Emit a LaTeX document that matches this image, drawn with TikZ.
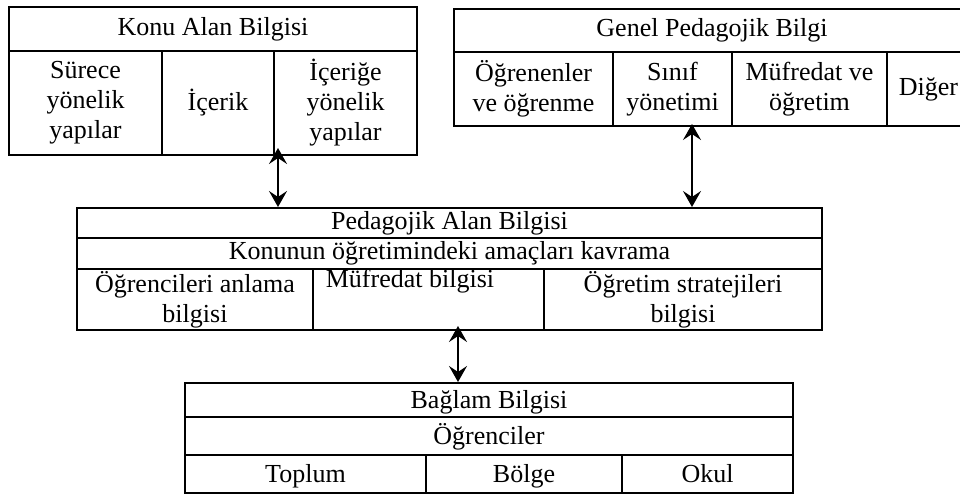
\documentclass[tikz,border=0pt]{standalone}
\usepackage{fontspec}
\setmainfont{Liberation Serif}
\usetikzlibrary{arrows.meta}

\tikzset{
  cell/.style={draw, line width=2pt, inner sep=0pt, align=center,
    font=\fontsize{26}{30}\selectfont},
  rowcell/.style={cell, text height=20pt, text depth=4pt},
  biarrow/.style={{Stealth[length=16pt,width=18pt,inset=6pt]}-{Stealth[length=16pt,width=18pt,inset=6pt]},
    line width=2pt}
}

\begin{document}
\begin{tikzpicture}[x=1pt,y=-1pt]
   \useasboundingbox (0,0) rectangle (960,494);
   \clip (0,0) rectangle (960,494);
   % Konu Alan Bilgisi
   \node[cell, minimum width=408pt, minimum height=44pt] (kab) at (213,29) {Konu Alan Bilgisi};
   \node[cell, minimum width=153pt, minimum height=104pt] (kab1) at (85.5,103) {Sürece\\yönelik\\yapılar};
   \node[cell, minimum width=112pt, minimum height=104pt] (kab2) at (218,103) {İçerik};
   \node[cell, minimum width=143pt, minimum height=104pt] (kab3) at (345.5,103) {İçeriğe\\yönelik\\yapılar};
   % Genel Pedagojik Bilgi
   \node[cell, minimum width=516pt, minimum height=43pt] (gpb) at (712,30.5) {Genel Pedagojik Bilgi};
   \node[cell, minimum width=159pt, minimum height=74pt] (gpb1) at (533.5,89) {Öğrenenler\\ve öğrenme};
   \node[cell, minimum width=119pt, minimum height=74pt] (gpb2) at (672.5,89) {Sınıf\\yönetimi};
   \node[cell, minimum width=155pt, minimum height=74pt] (gpb3) at (809.5,89) {Müfredat ve\\öğretim};
   \node[cell, minimum width=83pt, minimum height=74pt] (gpb4) at (928.5,89) {\raisebox{-8pt}{Diğer}};
   % Pedagojik Alan Bilgisi
   \node[cell, minimum width=745pt, minimum height=30pt] (pab1) at (449.5,223) {Pedagojik Alan Bilgisi};
   \node[cell, minimum width=745pt, minimum height=31pt] (pab2) at (449.5,253.5) {Konunun öğretimindeki amaçları kavrama};
   \node[cell, minimum width=236pt, minimum height=61pt] (pab3) at (195,299.5) {Öğrencileri anlama\\bilgisi};
   \node[cell, minimum width=231pt, minimum height=61pt] (pab4) at (428.5,299.5) {};
   \node[cell, draw=none, anchor=base] (pab4t) at (410,287) {Müfredat bilgisi};
   \node[cell, minimum width=278pt, minimum height=61pt] (pab5) at (683,299.5) {Öğretim stratejileri\\bilgisi};
   % Baglam Bilgisi
   \node[rowcell, minimum width=608pt, minimum height=34pt] (bag1) at (489,400) {Bağlam Bilgisi};
   \node[rowcell, minimum width=608pt, minimum height=38pt] (bag2) at (489,436) {Öğrenciler};
   \node[rowcell, minimum width=241pt, minimum height=38pt] (bag3) at (305.5,474) {Toplum};
   \node[rowcell, minimum width=196pt, minimum height=38pt] (bag4) at (524,474) {Bölge};
   \node[rowcell, minimum width=171pt, minimum height=38pt] (bag5) at (707.5,474) {Okul};
   % arrows
   \draw[biarrow, shorten <=-8pt] ([xshift=5pt]kab3.south west) -- ([xshift=5pt]kab3.south west |- pab1.north);
   \draw[biarrow, shorten <=-3pt] ([xshift=19.5pt]gpb2.south) -- ([xshift=19.5pt]gpb2.south |- pab1.north);
   \draw[biarrow, shorten <=-5pt] ([xshift=29.5pt]pab4.south) -- ([xshift=29.5pt]pab4.south |- bag1.north);
\end{tikzpicture}
\end{document}
